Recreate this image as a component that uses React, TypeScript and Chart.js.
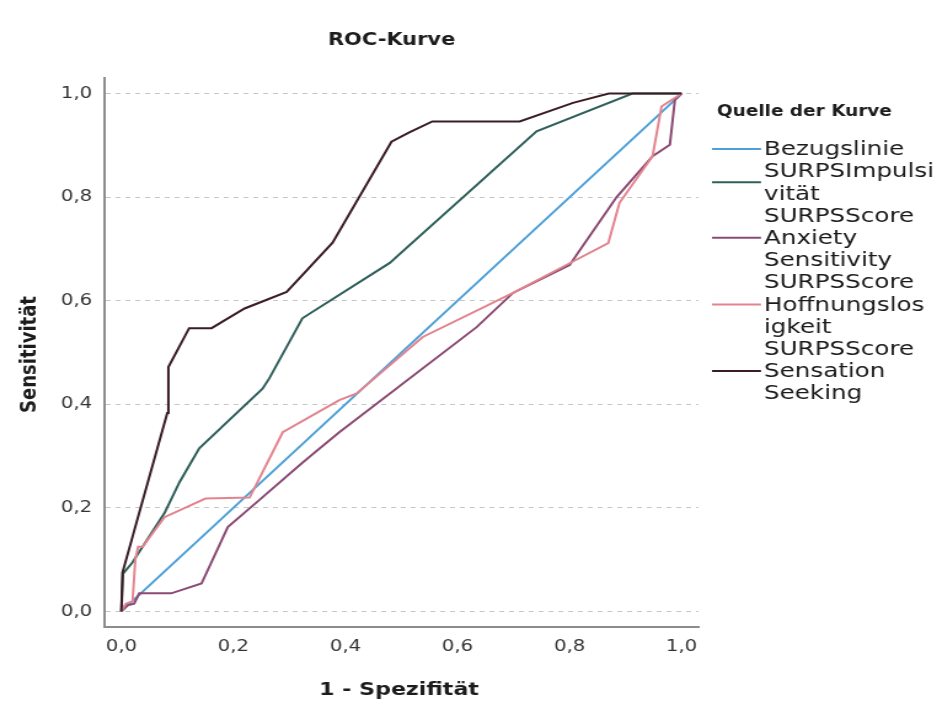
import React, { useEffect, useRef } from 'react';
import { Chart, registerables } from 'chart.js';

Chart.register(...registerables);

// ---- data ----
const chartTitle = 'ROC-Kurve';
const xTitle = '1 - Spezifität';
const yTitle = 'Sensitivität';
const legendTitle = 'Quelle der Kurve';
const tickValues = [0, 0.2, 0.4, 0.6, 0.8, 1.0];

const seriesLabels = [
  ['Bezugslinie'],
  ['SURPSImpulsi', 'vität'],
  ['SURPSScore', 'Anxiety', 'Sensitivity'],
  ['SURPSScore', 'Hoffnungslos', 'igkeit'],
  ['SURPSScore', 'Sensation', 'Seeking'],
];
const seriesColors = ['#4d9fd6', '#2f5f5a', '#8a4a72', '#e2848f', '#3a1c25'];

const refFpr = [0, 1];
const refTpr = [0, 1];

const impulsFpr = [0, 0.003, 0.02, 0.077, 0.104, 0.139, 0.252, 0.264, 0.323, 0.479, 0.741, 0.912, 1];
const impulsTpr = [0, 0.073, 0.095, 0.19, 0.25, 0.315, 0.43, 0.45, 0.566, 0.673, 0.927, 1, 1];

const anxietyFpr = [0, 0.011, 0.023, 0.032, 0.089, 0.143, 0.19, 0.246, 0.323, 0.389, 0.634, 0.699, 0.8, 0.884, 0.948, 0.979, 0.988, 1];
const anxietyTpr = [0, 0.012, 0.015, 0.035, 0.035, 0.054, 0.163, 0.215, 0.287, 0.346, 0.549, 0.615, 0.669, 0.8, 0.879, 0.901, 0.988, 1];

const hoffFpr = [0, 0.008, 0.02, 0.025, 0.03, 0.038, 0.077, 0.15, 0.229, 0.288, 0.389, 0.42, 0.538, 0.699, 0.794, 0.869, 0.889, 0.948, 0.964, 1];
const hoffTpr = [0, 0.015, 0.02, 0.1, 0.125, 0.125, 0.182, 0.218, 0.22, 0.346, 0.408, 0.421, 0.53, 0.615, 0.669, 0.711, 0.789, 0.879, 0.975, 1];

const sensFpr = [0, 0.002, 0.082, 0.084, 0.121, 0.161, 0.22, 0.295, 0.377, 0.482, 0.514, 0.555, 0.711, 0.806, 0.87, 1];
const sensTpr = [0, 0.075, 0.383, 0.472, 0.547, 0.547, 0.585, 0.617, 0.712, 0.907, 0.925, 0.946, 0.946, 0.982, 1, 1];

const seriesFpr = [refFpr, impulsFpr, anxietyFpr, hoffFpr, sensFpr];
const seriesTpr = [refTpr, impulsTpr, anxietyTpr, hoffTpr, sensTpr];

// ---- layout (the reference is horizontally stretched) ----
const PAGE_W = 937;
const PAGE_H = 706;
const STRETCH = 1.2297;
const W = Math.round(PAGE_W / STRETCH);

const fmt = (v: number) => Number(v).toFixed(1).replace('.', ',');

const textPlugin = {
  id: 'rocTexts',
  afterDraw(chart: any) {
    const ctx = chart.ctx as CanvasRenderingContext2D;
    const ca = chart.chartArea;
    const cx = (ca.left + ca.right) / 2;
    ctx.save();
    ctx.fillStyle = '#1c1c1c';
    ctx.textBaseline = 'middle';
    ctx.textAlign = 'center';
    ctx.font = 'bold 17px "DejaVu Sans"';
    ctx.fillText(chartTitle, cx - 8, 41);
    ctx.font = 'bold 18px "DejaVu Sans"';
    ctx.fillText(xTitle, cx - 2, 690);
    ctx.save();
    ctx.translate(30 / STRETCH, (ca.top + ca.bottom) / 2 + 2);
    ctx.rotate(-Math.PI / 2);
    ctx.fillText(yTitle, 0, 0);
    ctx.restore();

    // legend
    ctx.textAlign = 'left';
    ctx.font = 'bold 15px "DejaVu Sans"';
    ctx.fillText(legendTitle, 717 / STRETCH, 112);
    ctx.font = '20px "DejaVu Sans"';
    const lineH = 22.2;
    let line = 0;
    const y0 = 149;
    chart.data.datasets.forEach((ds: any, i: number) => {
      const lines = seriesLabels[i];
      const n = lines.length;
      const symY = y0 + lineH * (line + (n - 1) / 2);
      ctx.strokeStyle = ds.borderColor;
      ctx.lineWidth = 2;
      ctx.beginPath();
      ctx.moveTo(712 / STRETCH, symY);
      ctx.lineTo(761 / STRETCH, symY);
      ctx.stroke();
      ctx.fillStyle = '#1a1a1a';
      lines.forEach((t, k) => {
        ctx.fillText(t, 764 / STRETCH, y0 + lineH * (line + k) + 1);
      });
      line += n;
    });
    ctx.restore();
  },
};

export default function App() {
  const ref = useRef<HTMLCanvasElement | null>(null);
  useEffect(() => {
    document.body.style.margin = '0';
    const canvas = ref.current;
    if (!canvas) return;
    const datasets = seriesFpr.map((xs, i) => ({
      label: seriesLabels[i].join(''),
      data: xs.map((x, k) => ({ x, y: seriesTpr[i][k] })),
      showLine: true,
      borderColor: seriesColors[i],
      backgroundColor: seriesColors[i],
      borderWidth: 2,
      pointRadius: 0,
      pointHoverRadius: 0,
      fill: false,
      tension: 0,
      order: i === 0 ? 10 : 5 - i,
    }));
    const tickFont = { family: 'DejaVu Sans', size: 16 };
    const chart = new Chart(canvas, {
      type: 'scatter',
      data: { datasets },
      options: {
        responsive: false,
        animation: false,
        devicePixelRatio: 1,
        layout: { padding: { left: 0, top: 78, right: W - 568, bottom: 0 } },
        plugins: {
          legend: { display: false },
          tooltip: { enabled: false },
          title: { display: false },
        },
        scales: {
          x: {
            type: 'linear',
            min: -0.03,
            max: 1.03,
            afterBuildTicks: (s: any) => {
              s.ticks = tickValues.map((v) => ({ value: v }));
            },
            afterFit: (s: any) => {
              s.height = 79;
            },
            grid: { display: false, drawTicks: false },
            border: { display: true, color: '#8c8c8c', width: 2 },
            ticks: {
              font: tickFont,
              color: '#333333',
              padding: 10,
              maxRotation: 0,
              autoSkip: false,
              callback: (v: any) => fmt(v),
            },
          },
          y: {
            type: 'linear',
            min: -0.03,
            max: 1.03,
            afterBuildTicks: (s: any) => {
              s.ticks = tickValues.map((v) => ({ value: v }));
            },
            afterFit: (s: any) => {
              s.width = 85;
            },
            grid: { display: true, drawTicks: false, color: '#c6c6c6', lineWidth: 1 },
            border: { display: true, color: '#8c8c8c', width: 2, dash: [4, 4] },
            ticks: {
              font: tickFont,
              color: '#333333',
              padding: 10,
              autoSkip: false,
              callback: (v: any) => fmt(v),
            },
          },
        },
      } as any,
      plugins: [textPlugin],
    });
    return () => chart.destroy();
  }, []);

  return (
    <div style={{ width: PAGE_W, height: PAGE_H, overflow: 'hidden', position: 'relative', background: '#fff' }}>
      <div style={{ width: W, height: PAGE_H, transform: `scaleX(${STRETCH})`, transformOrigin: '0 0' }}>
        <canvas ref={ref} width={W} height={PAGE_H} style={{ display: 'block', width: W, height: PAGE_H }} />
      </div>
    </div>
  );
}
